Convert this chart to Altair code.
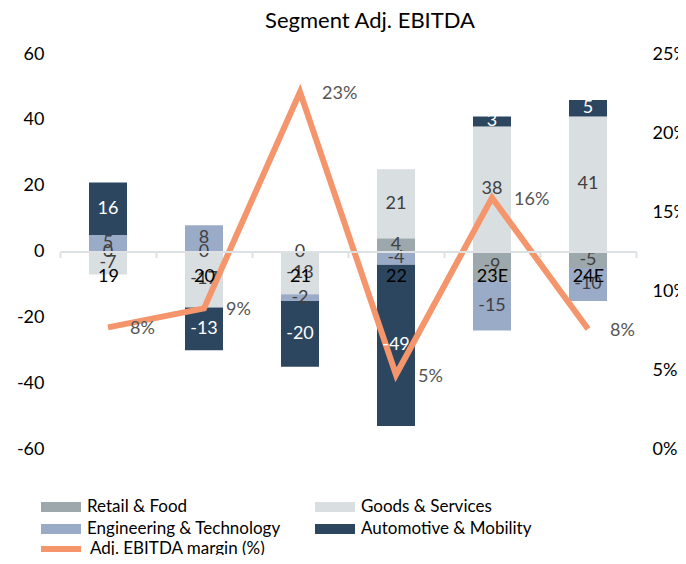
import altair as alt
import pandas as pd

years = ["19", "20", "21", "22", "23E", "24E"]
segments = ["Retail & Food", "Goods & Services", "Engineering & Technology", "Automotive & Mobility"]
seg_colors = ["#9ca8ab", "#d9dee1", "#9aabc8", "#2c4660"]
retail = [0, 0, 0, 4, -9, -5]
goods = [-7, -17, -13, 21, 38, 41]
eng = [5, 8, -2, -4, -15, -10]
auto = [16, -13, -20, -49, 3, 5]
margin = [0.077, 0.089, 0.226, 0.047, 0.159, 0.076]
margin_name = "Adj. EBITDA margin (%)"
left_ticks = [-60, -40, -20, 0, 20, 40, 60]
right_ticks = [0, 0.05, 0.10, 0.15, 0.20, 0.25]

rows = []
for i, yr in enumerate(years):
    for k, (s, vals) in enumerate(zip(segments, [retail, goods, eng, auto])):
        rows.append({"year": yr, "segment": s, "order": k, "value": vals[i]})
bars_df = pd.DataFrame(rows)
line_df = pd.DataFrame({"year": years, "margin": margin, "series": [margin_name] * len(years)})

# legend fills column-major: col 1 = Retail, Engineering; col 2 = Goods, Automotive
legend_order = [segments[0], segments[2], segments[1], segments[3]]
legend_colors = [seg_colors[0], seg_colors[2], seg_colors[1], seg_colors[3]]

FONT = "Lato"
W, H = 576, 395
LINE_COLOR = "#f4956c"

x_enc = alt.X(
    "year:N", sort=years,
    scale=alt.Scale(domain=years, paddingInner=0, paddingOuter=0),
    axis=alt.Axis(
        title=None, orient="bottom", offset=-H / 2, labelAngle=0,
        domainColor="#dde1e4", domainWidth=2, tickColor="#dde1e4", tickWidth=2,
        tickSize=6, tickBand="extent", labelFont=FONT, labelFontSize=18,
        labelColor="#000000", labelPadding=10, zindex=1,
    ),
)

yscale = alt.Scale(domain=[-60, 60], nice=False, zero=False)
left_axis = alt.Axis(
    title=None, values=left_ticks, domain=False, ticks=False, grid=False,
    labelExpr="'' + datum.value",
    labelFont=FONT, labelFontSize=18, labelColor="#000000", labelPadding=16,
)

stacked = alt.Chart(bars_df).transform_stack(
    stack="value", groupby=["year"], as_=["v0", "v1"],
    sort=[alt.SortField("order", order="ascending")],
).transform_calculate(
    mid="(datum.v0 + datum.v1) / 2",
    lbl="'' + datum.value",
)

bars = stacked.mark_bar(size=38).encode(
    x=x_enc,
    y=alt.Y("v0:Q", scale=yscale, axis=left_axis),
    y2="v1:Q",
    color=alt.Color(
        "segment:N",
        scale=alt.Scale(domain=legend_order, range=legend_colors),
        legend=alt.Legend(
            title=None, orient="none", legendX=-9, legendY=443, columns=2,
            columnPadding=34, rowPadding=4,
            symbolType="M-2,-0.5L2,-0.5L2,0.5L-2,0.5Z", symbolSize=400,
            symbolStrokeWidth=0, symbolOpacity=1, labelOffset=16,
            labelFont=FONT, labelFontSize=17, labelColor="#000000", labelLimit=400,
        ),
    ),
)

bar_text = stacked.mark_text(font=FONT, fontSize=18, baseline="middle").encode(
    x=x_enc,
    y=alt.Y("mid:Q", scale=yscale, axis=None),
    text=alt.Text("lbl:N"),
    color=alt.condition(alt.datum.segment == "Automotive & Mobility",
                        alt.value("#ffffff"), alt.value("#404040")),
)

rscale = alt.Scale(domain=[0, 0.25], nice=False, zero=False)
right_axis = alt.Axis(
    title=None, orient="right", values=right_ticks, format=".0%", domain=False,
    ticks=False, grid=False, labelFont=FONT, labelFontSize=18,
    labelColor="#000000", labelPadding=16,
)

line = alt.Chart(line_df).mark_line(strokeWidth=6).encode(
    x=x_enc,
    y=alt.Y("margin:Q", scale=rscale, axis=right_axis),
    stroke=alt.Stroke(
        "series:N",
        scale=alt.Scale(domain=[margin_name], range=[LINE_COLOR]),
        legend=alt.Legend(
            title=None, orient="none", legendX=-12, legendY=482,
            symbolType="M-2,0L2,0", symbolSize=400, symbolStrokeWidth=6,
            labelOffset=16, labelFont=FONT, labelFontSize=17,
            labelColor="#000000", labelLimit=400,
        ),
    ),
)

line_text = alt.Chart(line_df).mark_text(
    font=FONT, fontSize=18, align="left", baseline="middle", dx=22, dy=2, color="#555555"
).encode(
    x=x_enc,
    y=alt.Y("margin:Q", scale=rscale, axis=right_axis),
    text=alt.Text("margin:Q", format=".0%"),
)

chart = alt.layer(
    bars,
    alt.layer(line, line_text),
    bar_text,
).resolve_scale(y="independent").properties(
    width=W, height=H,
    title=alt.Title("Segment Adj. EBITDA", font=FONT, fontSize=22, fontWeight="normal",
                    color="#000000", anchor="middle", offset=12, dx=22),
    autosize=alt.AutoSizeParams(type="none"),
    padding={"left": 52, "top": 46, "right": 42, "bottom": 106},
).configure_view(stroke=None)

chart.save("out.html", embed_options={"renderer": "svg", "actions": False})
